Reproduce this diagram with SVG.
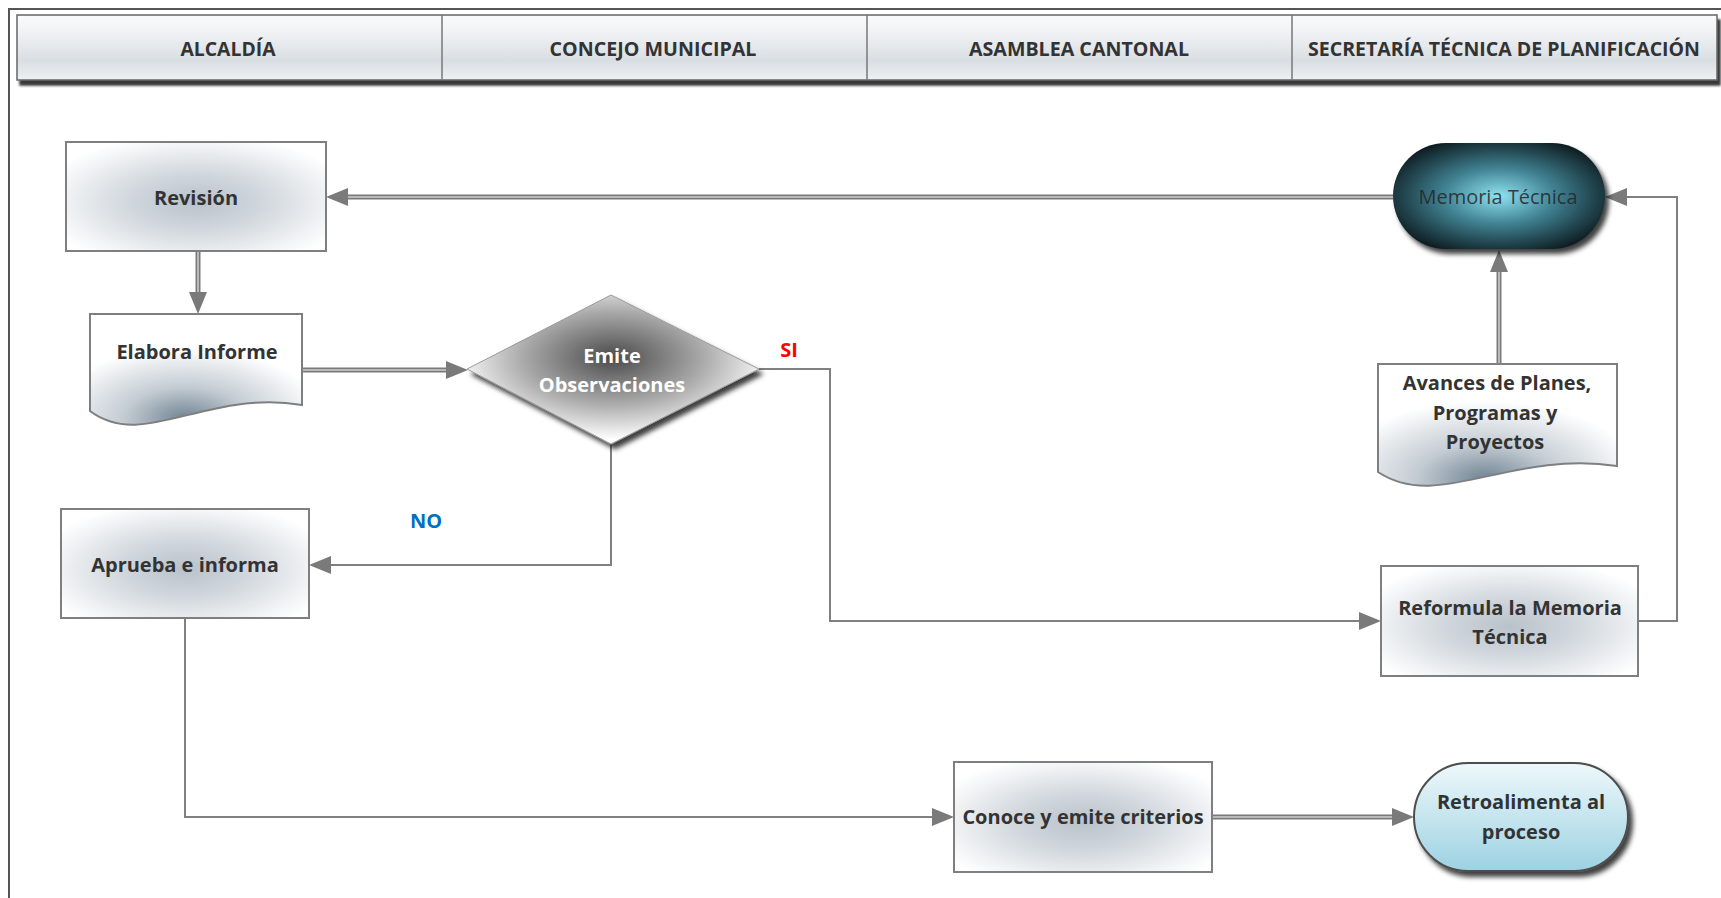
<svg xmlns="http://www.w3.org/2000/svg" width="1721" height="898" viewBox="0 0 1721 898">
  <style>
    .hdr { font-family: "Open Sans", "Liberation Sans", sans-serif; font-weight: 700; font-size: 19px; fill: #333333; text-anchor: middle; }
    .lbl { font-family: "Open Sans", "Liberation Sans", sans-serif; font-weight: 700; font-size: 20px; fill: #333333; text-anchor: middle; }
    .box { fill: url(#boxGrad); stroke: #7f7f7f; stroke-width: 2; }
    .doc { fill: url(#docGrad); stroke: #7f7f7f; stroke-width: 2; }
    .thin { fill: none; stroke: #808080; stroke-width: 2; }
    .dbl { fill: none; stroke: #7a7a7a; stroke-width: 5; }
    .dblIn { fill: none; stroke: #cfcfcf; stroke-width: 1.5; }
    .tag { font-family: "Open Sans", "Liberation Sans", sans-serif; font-weight: 700; font-size: 20px; text-anchor: middle; }
  </style>
  <defs>
    <linearGradient id="hdrGrad" x1="0" y1="0" x2="0" y2="1">
      <stop offset="0" stop-color="#fbfbfc"/>
      <stop offset="0.35" stop-color="#eceff1"/>
      <stop offset="0.7" stop-color="#d9dee3"/>
      <stop offset="1" stop-color="#eef0f2"/>
    </linearGradient>
    <radialGradient id="boxGrad" cx="0.5" cy="0.55" r="0.62">
      <stop offset="0" stop-color="#b9c2cb"/>
      <stop offset="0.4" stop-color="#d0d6dc"/>
      <stop offset="1" stop-color="#ffffff"/>
    </radialGradient>
    <radialGradient id="docGrad" cx="0.45" cy="0.95" r="0.65">
      <stop offset="0" stop-color="#6f8393"/>
      <stop offset="0.45" stop-color="#c4ccd3"/>
      <stop offset="1" stop-color="#ffffff"/>
    </radialGradient>
    <radialGradient id="diaGrad" cx="0.5" cy="0.42" r="0.55">
      <stop offset="0" stop-color="#4a4a4a"/>
      <stop offset="0.55" stop-color="#a8a8a8"/>
      <stop offset="1" stop-color="#ffffff"/>
    </radialGradient>
    <radialGradient id="memGrad" cx="0.5" cy="0.5" r="0.6">
      <stop offset="0" stop-color="#8fe2f2"/>
      <stop offset="0.45" stop-color="#3f8090"/>
      <stop offset="1" stop-color="#0a1418"/>
    </radialGradient>
    <linearGradient id="retroGrad" x1="0" y1="0" x2="0" y2="1">
      <stop offset="0" stop-color="#eef8fb"/>
      <stop offset="1" stop-color="#9dd2e2"/>
    </linearGradient>
    <filter id="hdrShadow" x="-2%" y="-20%" width="104%" height="150%">
      <feGaussianBlur in="SourceAlpha" stdDeviation="1.2"/>
      <feOffset dx="3" dy="5" result="o"/>
      <feFlood flood-color="#222222" flood-opacity="0.9"/>
      <feComposite in2="o" operator="in"/>
      <feMerge><feMergeNode/><feMergeNode in="SourceGraphic"/></feMerge>
    </filter>
    <filter id="shapeShadow" x="-20%" y="-20%" width="140%" height="150%">
      <feGaussianBlur in="SourceAlpha" stdDeviation="2.5"/>
      <feOffset dx="4" dy="5" result="o"/>
      <feFlood flood-color="#000000" flood-opacity="0.75"/>
      <feComposite in2="o" operator="in"/>
      <feMerge><feMergeNode/><feMergeNode in="SourceGraphic"/></feMerge>
    </filter>
    <marker id="arrow" viewBox="0 0 22 18" refX="0" refY="9" markerWidth="22" markerHeight="18" markerUnits="userSpaceOnUse" orient="auto">
      <path d="M0,0 L22,9 L0,18 z" fill="#7a7a7a"/>
    </marker>
  </defs>

  <!-- outer frame -->
  <rect x="9" y="9" width="1730" height="910" fill="none" stroke="#555555" stroke-width="2"/>

  <!-- swimlane header -->
  <g id="header">
    <rect x="17" y="15" width="1700" height="65" fill="url(#hdrGrad)" stroke="#666666" stroke-width="1.5" filter="url(#hdrShadow)"/>
    <line x1="442" y1="15" x2="442" y2="80" stroke="#777777" stroke-width="1.5"/>
    <line x1="867" y1="15" x2="867" y2="80" stroke="#777777" stroke-width="1.5"/>
    <line x1="1292" y1="15" x2="1292" y2="80" stroke="#777777" stroke-width="1.5"/>
    <text class="hdr" x="228" y="56" textLength="95" lengthAdjust="spacingAndGlyphs">ALCALDÍA</text>
    <text class="hdr" x="653" y="56" textLength="207" lengthAdjust="spacingAndGlyphs">CONCEJO MUNICIPAL</text>
    <text class="hdr" x="1079" y="56" textLength="220" lengthAdjust="spacingAndGlyphs">ASAMBLEA CANTONAL</text>
    <text class="hdr" x="1504" y="56" textLength="392" lengthAdjust="spacingAndGlyphs">SECRETARÍA TÉCNICA DE PLANIFICACIÓN</text>
  </g>

  <!-- connectors -->
  <g id="connectors">
    <!-- Memoria Técnica to Revisión -->
    <path class="dbl" d="M1393,197 H348" marker-end="url(#arrow)"/>
    <path class="dblIn" d="M1393,197 H348"/>
    <!-- Revisión to Elabora Informe -->
    <path class="dbl" d="M198,252 V292" marker-end="url(#arrow)"/>
    <path class="dblIn" d="M198,252 V292"/>
    <!-- Elabora Informe to decision -->
    <path class="dbl" d="M303,370 H446" marker-end="url(#arrow)"/>
    <path class="dblIn" d="M303,370 H446"/>
    <!-- SI branch to Reformula -->
    <path class="thin" d="M759,369 H830 V621 H1359" marker-end="url(#arrow)"/>
    <!-- NO branch to Aprueba -->
    <path class="thin" d="M611,444 V565 H331" marker-end="url(#arrow)"/>
    <!-- Aprueba to Conoce -->
    <path class="thin" d="M185,619 V817 H932" marker-end="url(#arrow)"/>
    <!-- Conoce to Retroalimenta -->
    <path class="dbl" d="M1212,817 H1392" marker-end="url(#arrow)"/>
    <path class="dblIn" d="M1212,817 H1392"/>
    <!-- Avances to Memoria Técnica -->
    <path class="dbl" d="M1499,364 V272" marker-end="url(#arrow)"/>
    <path class="dblIn" d="M1499,364 V272"/>
    <!-- Reformula back to Memoria Técnica -->
    <path class="thin" d="M1638,621 H1677 V197 H1627" marker-end="url(#arrow)"/>
    <text class="tag" x="789" y="357" fill="#ff0000">SI</text>
    <text class="tag" x="426" y="528" fill="#0070c0">NO</text>
  </g>

  <g id="revision">
    <rect class="box" x="66" y="142" width="260" height="109"/>
    <text class="lbl" x="196" y="205">Revisión</text>
  </g>

  <g id="elabora-informe">
    <path class="doc" d="M90,314 H302 V405 C206,389 143,451 90,411 Z"/>
    <text class="lbl" x="197" y="359">Elabora Informe</text>
  </g>

  <g id="emite-observaciones">
    <polygon points="611,295 759,369 611,444 467,369" fill="url(#diaGrad)" stroke="#9a9a9a" stroke-width="1" filter="url(#shapeShadow)"/>
    <text class="lbl" x="612" y="363" style="fill:#ffffff">Emite</text>
    <text class="lbl" x="612" y="392" style="fill:#ffffff">Observaciones</text>
  </g>

  <g id="aprueba-informa">
    <rect class="box" x="61" y="509" width="248" height="109"/>
    <text class="lbl" x="185" y="572">Aprueba e informa</text>
  </g>

  <g id="memoria-tecnica">
    <rect x="1393" y="143" width="212" height="106" rx="53" ry="53" fill="url(#memGrad)" filter="url(#shapeShadow)"/>
    <text x="1498" y="204" font-family="Open Sans, Liberation Sans, sans-serif" font-size="20" fill="#262626" fill-opacity="0.85" text-anchor="middle">Memoria Técnica</text>
  </g>

  <g id="avances">
    <path class="doc" d="M1378,364 H1617 V466 C1509,450 1438,512 1378,472 Z"/>
    <text class="lbl" x="1497" y="390">Avances de Planes,</text>
    <text class="lbl" x="1495" y="420">Programas y</text>
    <text class="lbl" x="1495" y="449">Proyectos</text>
  </g>

  <g id="reformula">
    <rect class="box" x="1381" y="566" width="257" height="110"/>
    <text class="lbl" x="1510" y="615">Reformula la Memoria</text>
    <text class="lbl" x="1510" y="644">Técnica</text>
  </g>

  <g id="conoce">
    <rect class="box" x="954" y="762" width="258" height="110"/>
    <text class="lbl" x="1083" y="824">Conoce y emite criterios</text>
  </g>

  <g id="retroalimenta">
    <rect x="1414" y="763" width="214" height="108" rx="54" ry="54" fill="url(#retroGrad)" stroke="#4d4d4d" stroke-width="2" filter="url(#shapeShadow)"/>
    <text class="lbl" x="1521" y="809">Retroalimenta al</text>
    <text class="lbl" x="1521" y="839">proceso</text>
  </g>
</svg>
